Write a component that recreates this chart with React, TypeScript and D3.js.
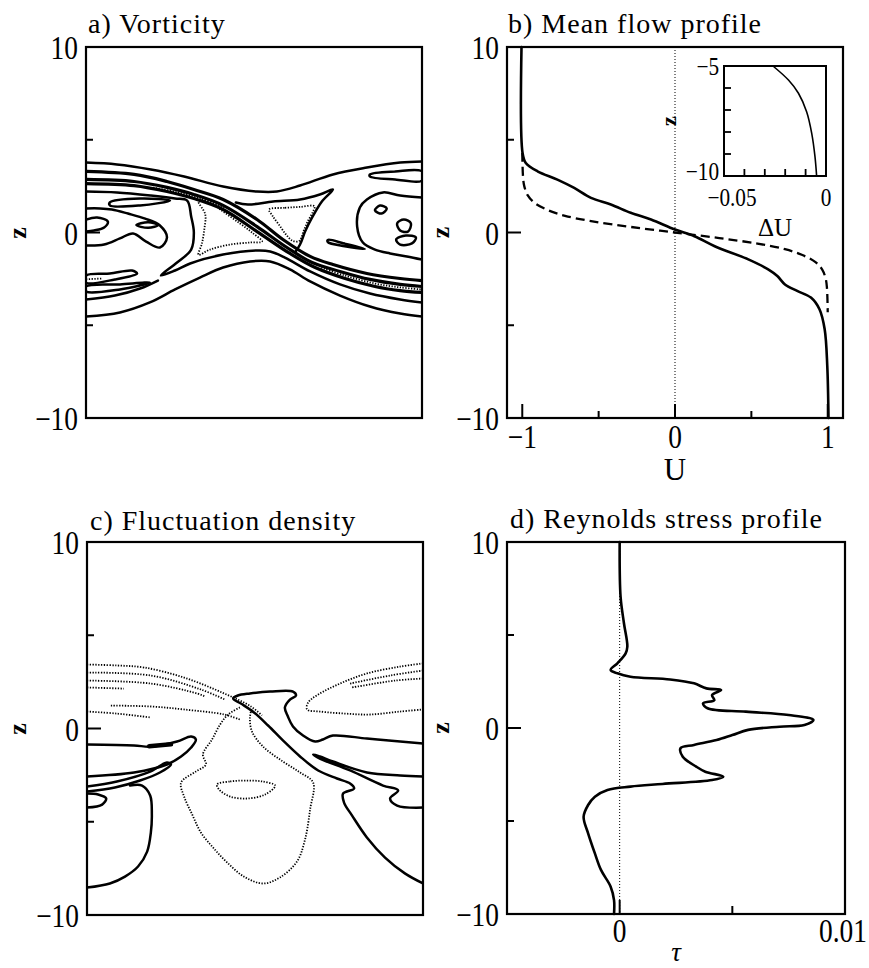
import React from "react";
import * as d3 from "d3";

type Pt = [number, number];

const FONT = "'Liberation Serif','Times New Roman',serif";

// ---------- shared z axis ----------
const zTickValues = [-5, 0, 5];
const zTickLabels = [-10, 0, 10];

// ---------- b) mean flow profile ----------
const meanFlowZ = [10, 4.28, 3.75, 3.3, 2.85, 2.4, 1.87, 1.51, 1.06, 0.7, 0.16, -0.2, -0.74, -1.45, -1.99, -2.35, -2.8, -3.15, -3.51, -4.14, -5.22, -7.19, -10];
const meanFlowU = [-1.005, -0.998, -0.977, -0.9, -0.77, -0.66, -0.55, -0.42, -0.29, -0.157, 0.0, 0.127, 0.26, 0.48, 0.61, 0.67, 0.72, 0.8, 0.89, 0.946, 0.98, 0.997, 1.005];
const initialZ = [4.3, 3.0, 2.5, 2.0, 1.6, 1.2, 0.9, 0.6, 0.3, 0, -0.3, -0.6, -0.9, -1.2, -1.6, -2.0, -2.5, -3.0, -4.3];
const initialU = [-1.0, -0.995, -0.987, -0.964, -0.92, -0.83, -0.72, -0.54, -0.29, 0, 0.29, 0.54, 0.72, 0.83, 0.92, 0.964, 0.987, 0.995, 1.0];
const uMinorTicks = [-0.5, 0.5];
const uMajorTicks = [-1, 0, 1];
const uTickLabels = [-1, 0, 1];

// inset: deviation of the mean flow near the lower boundary
const insetZ = [-5, -5.64, -6.24, -7.08, -8.06, -9.12, -10];
const insetDeltaU = [-0.026, -0.0184, -0.0135, -0.0095, -0.007, -0.0054, -0.0046];
const insetZTicks = [-9, -8, -7, -6];
const insetUTicks = [-0.04, -0.03, -0.02, -0.01];
const insetZLabels = [-10, -5];
const insetULabels = [-0.05, 0];

// ---------- d) Reynolds stress profile ----------
const stressZ = [10, 7.06, 5.63, 4.37, 4.0, 3.48, 3.12, 2.94, 2.76, 2.61, 2.4, 2.13, 2.04, 1.77, 1.5, 1.33, 1.06, 0.88, 0.7, 0.43, 0.16, 0.07, -0.1, -0.38, -0.65, -0.91, -1.09, -1.54, -2.08, -2.35, -2.62, -2.8, -3.01, -3.15, -3.33, -3.69, -4.14, -4.77, -5.66, -6.74, -7.63, -8.53, -9.25, -10];
const stressTau = [0, 0.00004, 0.00019, 0.00034, 0.00026, -0.0001, -0.0004, -0.0001, 0.00048, 0.00224, 0.0033, 0.00385, 0.0045, 0.0041, 0.0042, 0.0037, 0.0039, 0.0056, 0.0075, 0.0086, 0.0082, 0.0071, 0.0057, 0.005, 0.0043, 0.0033, 0.0027, 0.0028, 0.0034, 0.0038, 0.0046, 0.0041, 0.0019, 0.00048, -0.00054, -0.0011, -0.0014, -0.0016, -0.0014, -0.0011, -0.00083, -0.0004, -0.00025, -0.00025];
const tauMinorTicks = [0.005];
const tauMajorTicks = [0];
const tauTickLabels = [0, 0.01];

// ---------- a) vorticity contours, [x / wavelength, z] ----------
const vortOuterTop: Pt[] = [[0, 3.77], [0.092, 3.67], [0.193, 3.4], [0.292, 3.02], [0.408, 2.48], [0.509, 2.21], [0.568, 2.21], [0.637, 2.53], [0.735, 3.13], [0.836, 3.5], [0.935, 3.77], [1, 3.83]];
const vortOuterBottom: Pt[] = [[0, -4.53], [0.101, -4.31], [0.19, -3.77], [0.265, -3.07], [0.339, -2.43], [0.408, -1.89], [0.488, -1.56], [0.548, -1.56], [0.607, -1.99], [0.667, -2.64], [0.756, -3.4], [0.845, -3.99], [0.935, -4.37], [1, -4.53]];
const vortBraid1: Pt[] = [[0, 3.29], [0.143, 3.13], [0.241, 2.75], [0.321, 2.32], [0.408, 1.78], [0.509, 0.7], [0.586, -0.38], [0.667, -1.29], [0.735, -1.73], [0.836, -2.21], [0.935, -2.48], [1, -2.59]];
const vortBraid2: Pt[] = [[0, 2.86], [0.143, 2.75], [0.241, 2.43], [0.321, 2.05], [0.408, 1.46], [0.509, 0.32], [0.598, -0.81], [0.673, -1.62], [0.756, -2.1], [0.845, -2.53], [0.935, -2.8], [1, -2.91]];
const vortBraid3: Pt[] = [[0, 2.64], [0.143, 2.53], [0.241, 2.21], [0.321, 1.83], [0.408, 1.24], [0.509, 0.05], [0.607, -1.13], [0.682, -1.89], [0.771, -2.48], [0.86, -2.91], [0.935, -3.13], [1, -3.23]];
const vortFoldLeft: Pt[] = [[0, 2.21], [0.092, 2.16], [0.193, 1.99], [0.265, 1.83], [0.301, 1.72], [0.313, 0.86], [0.321, 0], [0.313, -0.92], [0.271, -1.62], [0.223, -2.32], [0.265, -2.05], [0.31, -1.67], [0.408, -1.19], [0.509, -0.97], [0.548, -1.02], [0.592, -1.35], [0.667, -2.1], [0.756, -2.8], [0.845, -3.29], [0.935, -3.61], [1, -3.77]];
const vortFoldRight: Pt[] = [[0.446, 1.62], [0.482, 1.51], [0.557, 1.67], [0.637, 1.78], [0.696, 2.05], [0.735, 2.32], [0.702, 1.67], [0.673, 0.81], [0.652, 0.05], [0.637, -0.65], [0.622, -1.08]];
const vortLowerLeft: Pt[] = [[0, -3.61], [0.086, -3.4], [0.161, -3.02], [0.214, -2.59]];
const vortLeftLobe: Pt[] = [[0, 0.7], [0.033, 0.81], [0.065, 0.59], [0.054, 0.27], [0.024, 0.11], [0, 0.05]];
const vortLeftCore: Pt[] = [[0, -0.7], [0.054, -0.65], [0.101, -0.32], [0.14, -0.05], [0.179, -0.49], [0.22, -0.81], [0.241, -0.27], [0.22, 0.38], [0.176, 0.75], [0.125, 1.02], [0.077, 1.24], [0.042, 1.3], [0, 1.3]];
const vortRightCore: Pt[] = [[1, 1.89], [0.935, 1.99], [0.884, 2.16], [0.836, 1.78], [0.815, 1.35], [0.807, 0.32], [0.824, -0.54], [0.86, -0.92], [0.905, -1.13], [0.955, -1.29], [1, -1.46]];
const vortLensA: Pt[] = [[0.071, 1.62], [0.161, 1.83], [0.25, 1.72], [0.161, 1.46], [0.071, 1.46]];
const vortLensB: Pt[] = [[0.15, 0.4], [0.185, 0.55], [0.215, 0.4], [0.185, 0.25]];
const vortLensC: Pt[] = [[0, -2.32], [0.071, -2.21], [0.137, -2.05], [0.152, -2.21], [0.086, -2.53], [0, -2.7]];
const vortLensD: Pt[] = [[0, -2.91], [0.101, -2.8], [0.19, -2.7], [0.101, -3.07], [0, -3.18]];
const vortLensE: Pt[] = [[0.845, 3.13], [0.92, 3.29], [1, 3.29], [1, 2.8], [0.92, 2.86], [0.845, 3.02]];
const vortLensG: Pt[] = [[0.72, -0.4], [0.77, -0.6], [0.83, -0.88], [0.77, -0.74], [0.72, -0.52]];
const vortLoopA: Pt[] = [[0.926, 0.49], [0.946, 0.7], [0.967, 0.49], [0.958, 0.05], [0.935, 0.11]];
const vortLoopB: Pt[] = [[0.923, -0.38], [0.952, -0.16], [0.982, -0.27], [0.97, -0.59], [0.935, -0.65]];
const vortLoopC: Pt[] = [[0.86, 1.2], [0.875, 1.45], [0.895, 1.3], [0.88, 1.02]];
const vortDotLeftTri: Pt[] = [[0.335, 1.7], [0.369, 1.62], [0.408, 1.13], [0.458, 0.49], [0.494, 0], [0.524, -0.49], [0.488, -0.54], [0.429, -0.65], [0.369, -0.92], [0.335, -1.2], [0.345, -0.6], [0.352, 0.16], [0.355, 0.97]];
const vortDotRightTri: Pt[] = [[0.545, 1.24], [0.592, 1.33], [0.637, 1.38], [0.68, 1.42], [0.675, 1.1], [0.66, 0.6], [0.648, 0.1], [0.635, -0.45], [0.615, -0.45], [0.595, -0.1], [0.575, 0.4], [0.555, 0.9]];
const vortDotBraidUpper: Pt[] = [[0.2, 2.42], [0.27, 2.18], [0.34, 1.84], [0.41, 1.35]];
const vortDotBraidLower: Pt[] = [[0.7, -1.9], [0.77, -2.32], [0.86, -2.75], [0.935, -2.96], [1, -3.07]];
const vortDotLeftHatch: Pt[] = [[0, -2.52], [0.05, -2.48]];

// ---------- c) fluctuation density contours ----------
const fluctFunnel: Pt[] = [[1, -0.8], [0.932, -0.7], [0.833, -0.54], [0.732, -0.38], [0.702, -0.59], [0.679, -0.7], [0.643, -0.38], [0.613, 0.11], [0.598, 0.64], [0.589, 1.13], [0.604, 1.55], [0.622, 1.77], [0.613, 1.98], [0.545, 1.98], [0.485, 1.88], [0.449, 1.77], [0.435, 1.61], [0.458, 1.34], [0.497, 0.86], [0.539, 0.16], [0.583, -0.64], [0.634, -1.5], [0.688, -2.25], [0.744, -2.68], [0.783, -2.95], [0.795, -3.22], [0.762, -3.49], [0.765, -3.97], [0.789, -4.67], [0.833, -5.84], [0.887, -6.92], [0.946, -7.77], [1, -8.31]];
const fluctRightTongue: Pt[] = [[1, -2.57], [0.932, -2.52], [0.833, -2.36], [0.732, -1.77], [0.693, -1.5], [0.673, -1.39], [0.693, -1.61], [0.783, -2.25], [0.881, -3.06], [0.926, -3.32], [0.902, -3.75], [0.923, -4.13], [1, -4.24]];
const fluctLeftTongue: Pt[] = [[0, -0.86], [0.14, -0.91], [0.19, -0.97], [0.268, -0.7], [0.31, -0.43], [0.324, -0.59], [0.31, -1.02], [0.28, -1.5], [0.238, -1.93], [0.14, -2.36], [0, -2.57]];
const fluctLeftTongueSpot: Pt[] = [[0.185, -0.95], [0.25, -0.85]];
const fluctLeftInner: Pt[] = [[0, -3.11], [0.089, -2.84], [0.188, -2.31], [0.238, -1.82], [0.25, -1.93], [0.217, -2.36], [0.158, -2.79], [0.083, -3.16], [0, -3.38]];
const fluctLeftBig: Pt[] = [[0.128, -3.06], [0.164, -3.06], [0.188, -3.59], [0.193, -4.61], [0.19, -5.58], [0.179, -6.6], [0.152, -7.4], [0.113, -7.94], [0.068, -8.31], [0, -8.53]];
const fluctLeftLobe: Pt[] = [[0, -3.49], [0.033, -3.54], [0.057, -3.75], [0.045, -4.08], [0, -4.24]];
const fluctDot1: Pt[] = [[0, 3.43], [0.089, 3.38], [0.17, 3.27], [0.289, 2.73], [0.408, 1.88], [0.488, 1.18], [0.521, 0.7]];
const fluctDot2: Pt[] = [[0, 3.0], [0.19, 2.84], [0.339, 2.09], [0.411, 1.55]];
const fluctDot3: Pt[] = [[0, 2.57], [0.19, 2.41], [0.327, 1.88], [0.351, 1.72]];
const fluctDot4: Pt[] = [[0, 2.2], [0.11, 2.14]];
const fluctDot5: Pt[] = [[0, 0.91], [0.089, 0.8], [0.19, 0.59]];
const fluctDot6: Pt[] = [[0.071, 1.23], [0.19, 1.18], [0.289, 1.02], [0.408, 0.75], [0.455, 0.48]];
const fluctBell: Pt[] = [[0.455, 1.13], [0.42, 0.75], [0.396, 0.21], [0.372, -0.59], [0.345, -1.39], [0.354, -1.93], [0.324, -2.31], [0.28, -2.9], [0.289, -3.65], [0.313, -4.61], [0.339, -5.58], [0.375, -6.38], [0.414, -7.13], [0.467, -7.94], [0.524, -8.31], [0.574, -7.99], [0.625, -7.13], [0.649, -5.95], [0.664, -4.34], [0.673, -2.9], [0.634, -2.36], [0.583, -1.77], [0.524, -0.97], [0.491, -0.16], [0.485, 0.59], [0.491, 1.13]];
const fluctEllipse: Pt[] = [[0.387, -3.0], [0.426, -2.84], [0.47, -2.79], [0.521, -2.84], [0.56, -3.06], [0.53, -3.54], [0.479, -3.75], [0.426, -3.65], [0.393, -3.27]];
const fluctDotRightLobe: Pt[] = [[1, 3.49], [0.932, 3.32], [0.833, 2.95], [0.753, 2.41], [0.688, 1.82], [0.658, 1.39], [0.655, 1.02], [0.693, 0.91], [0.768, 0.8], [0.842, 0.75], [0.932, 0.91], [1, 1.02]];
const fluctDotR2: Pt[] = [[1, 3.11], [0.902, 2.84], [0.783, 2.41]];
const fluctDotR3: Pt[] = [[1, 2.68], [0.917, 2.57], [0.789, 2.2]];

// grouped for drawing
const vortHeavy = [vortBraid1, vortBraid2, vortBraid3];
const vortSolidOpen = [vortOuterTop, vortOuterBottom, vortFoldLeft, vortFoldRight, vortLowerLeft, vortLeftLobe, vortLeftCore, vortRightCore];
const vortSolidClosed = [vortLensA, vortLensB, vortLensC, vortLensD, vortLensE, vortLensG, vortLoopA, vortLoopB, vortLoopC];
const vortDottedOpen = [vortDotBraidUpper, vortDotBraidLower, vortDotLeftHatch];
const vortDottedClosed = [vortDotLeftTri, vortDotRightTri];
const fluctSolidOpen = [fluctFunnel, fluctRightTongue, fluctLeftTongue, fluctLeftInner, fluctLeftBig, fluctLeftLobe];
const fluctDottedOpen = [fluctDot1, fluctDot2, fluctDot3, fluctDot4, fluctDot5, fluctDot6, fluctBell, fluctDotRightLobe, fluctDotR2, fluctDotR3];
const fluctDottedClosed = [fluctEllipse];

// ---------- layout ----------
const W = 869;
const H = 968;
const boxA = { x0: 86, x1: 422, y0: 47, y1: 418 };
const boxB = { x0: 507, x1: 843, y0: 47, y1: 418 };
const boxC = { x0: 87, x1: 423, y0: 542, y1: 915 };
const boxD = { x0: 507, x1: 845, y0: 542, y1: 914 };
const boxInset = { x0: 724, x1: 826, y0: 66, y1: 176 };

const fmt = (v: number) => String(v).replace("-", "\u2212");
const pairs = (xs: number[], ys: number[]): Pt[] => xs.map((x, i) => [x, ys[i]]);

function makeLine(xs: d3.ScaleLinear<number, number>, ys: d3.ScaleLinear<number, number>, closed = false) {
  return d3
    .line<Pt>()
    .x((d) => xs(d[0]))
    .y((d) => ys(d[1]))
    .curve(closed ? d3.curveCatmullRomClosed.alpha(0.5) : d3.curveCatmullRom.alpha(0.5));
}

function Label(props: { x: number; y: number; size: number; anchor?: string; sx?: number; children: React.ReactNode; italic?: boolean; bold?: boolean; spacing?: number }) {
  const { x, y, size, anchor = "start", sx = 1, italic, bold, spacing } = props;
  return (
    <text
      transform={`translate(${x},${y}) scale(${sx},1)`}
      fontSize={size}
      textAnchor={anchor}
      fontFamily={FONT}
      fontStyle={italic ? "italic" : "normal"}
      fontWeight={bold ? "bold" : "normal"}
      letterSpacing={spacing}
      fill="#000"
    >
      {props.children}
    </text>
  );
}

function ZLabel({ x, y, size = 26 }: { x: number; y: number; size?: number }) {
  return (
    <text transform={`translate(${x},${y}) rotate(-90)`} fontSize={size} fontWeight="bold" fontFamily={FONT} textAnchor="middle" dominantBaseline="central">
      z
    </text>
  );
}

// left z axis with tick marks inside the frame
function ZAxis({ box, z }: { box: typeof boxA; z: d3.ScaleLinear<number, number> }) {
  return (
    <g>
      {zTickValues.map((v) => (
        <line key={v} x1={box.x0} x2={box.x0 + (v === 0 ? 14 : 7)} y1={z(v)} y2={z(v)} stroke="#000" strokeWidth={2} />
      ))}
      {zTickLabels.map((v) => (
        <Label key={v} x={box.x0 - 8} y={z(v) + 12} size={33} sx={0.83} anchor="end">
          {fmt(v)}
        </Label>
      ))}
    </g>
  );
}

function Frame({ box }: { box: typeof boxA }) {
  return <rect x={box.x0} y={box.y0} width={box.x1 - box.x0} height={box.y1 - box.y0} fill="none" stroke="#000" strokeWidth={2.2} />;
}

const SOLID = { fill: "none", stroke: "#000", strokeWidth: 2.5, strokeLinejoin: "round" as const, strokeLinecap: "round" as const };
const DOTTED = { fill: "none", stroke: "#000", strokeWidth: 1.8, strokeDasharray: "1.3 1.5" };

function ContourPanel(props: {
  box: typeof boxA;
  id: string;
  title: string;
  titleX: number;
  titleY: number;
  zLabelY: number;
  heavy?: Pt[][];
  solidOpen: Pt[][];
  solidClosed: Pt[][];
  dottedOpen: Pt[][];
  dottedClosed: Pt[][];
  spots?: Pt[][];
}) {
  const { box, id } = props;
  const x = d3.scaleLinear().domain([0, 1]).range([box.x0, box.x1]);
  const z = d3.scaleLinear().domain([-10, 10]).range([box.y1, box.y0]);
  const open = makeLine(x, z);
  const closed = makeLine(x, z, true);
  return (
    <g>
      <defs>
        <clipPath id={id}>
          <rect x={box.x0} y={box.y0} width={box.x1 - box.x0} height={box.y1 - box.y0} />
        </clipPath>
      </defs>
      <g clipPath={`url(#${id})`}>
        {(props.heavy || []).map((c, i) => (
          <path key={`hv${i}`} d={open(c) || ""} {...SOLID} strokeWidth={3.2} />
        ))}
        {props.solidOpen.map((c, i) => (
          <path key={`so${i}`} d={open(c) || ""} {...SOLID} />
        ))}
        {props.solidClosed.map((c, i) => (
          <path key={`sc${i}`} d={closed(c) || ""} {...SOLID} />
        ))}
        {props.dottedOpen.map((c, i) => (
          <path key={`do${i}`} d={open(c) || ""} {...DOTTED} />
        ))}
        {props.dottedClosed.map((c, i) => (
          <path key={`dc${i}`} d={closed(c) || ""} {...DOTTED} />
        ))}
        {(props.spots || []).map((c, i) => (
          <path key={`sp${i}`} d={open(c) || ""} fill="none" stroke="#000" strokeWidth={4.5} strokeLinecap="round" />
        ))}
      </g>
      <Frame box={box} />
      <ZAxis box={box} z={z} />
      <ZLabel x={17} y={props.zLabelY} />
      <Label x={props.titleX} y={props.titleY} size={28} spacing={1}>
        {props.title}
      </Label>
    </g>
  );
}

function MeanFlowPanel() {
  const box = boxB;
  const u = d3.scaleLinear().domain([-1.1, 1.1]).range([box.x0, box.x1]);
  const z = d3.scaleLinear().domain([-10, 10]).range([box.y1, box.y0]);
  const line = makeLine(u, z);
  const iu = d3.scaleLinear().domain([-0.05, 0]).range([boxInset.x0, boxInset.x1]);
  const iz = d3.scaleLinear().domain([-10, -5]).range([boxInset.y1, boxInset.y0]);
  const insetLine = makeLine(iu, iz);
  return (
    <g>
      <line x1={u(0)} x2={u(0)} y1={box.y0} y2={box.y1} stroke="#000" strokeWidth={1} strokeDasharray="1 2" />
      <path d={line(pairs(initialU, initialZ)) || ""} fill="none" stroke="#000" strokeWidth={2.3} strokeDasharray="9 5" />
      <path d={line(pairs(meanFlowU, meanFlowZ)) || ""} {...SOLID} strokeWidth={2.6} />
      <Frame box={box} />
      <ZAxis box={box} z={z} />
      {uMinorTicks.map((v) => (
        <line key={v} x1={u(v)} x2={u(v)} y1={box.y1} y2={box.y1 - 7} stroke="#000" strokeWidth={2} />
      ))}
      {uMajorTicks.map((v) => (
        <line key={`M${v}`} x1={u(v)} x2={u(v)} y1={box.y1} y2={box.y1 - 14} stroke="#000" strokeWidth={2} />
      ))}
      {uTickLabels.map((v) => (
        <Label key={v} x={u(v)} y={box.y1 + 30} size={33} sx={0.83} anchor="middle">
          {fmt(v)}
        </Label>
      ))}
      <Label x={u(0)} y={box.y1 + 62} size={31} anchor="middle">
        U
      </Label>
      <ZLabel x={440} y={z(0)} />
      <Label x={boxB.x0 + 1} y={33} size={28} spacing={1}>
        b) Mean flow profile
      </Label>

      {/* inset */}
      <rect x={boxInset.x0} y={boxInset.y0} width={boxInset.x1 - boxInset.x0} height={boxInset.y1 - boxInset.y0} fill="none" stroke="#000" strokeWidth={2} />
      <path d={insetLine(pairs(insetDeltaU, insetZ)) || ""} fill="none" stroke="#000" strokeWidth={1.6} />
      {insetZTicks.map((v) => (
        <line key={v} x1={boxInset.x0} x2={boxInset.x0 + 7} y1={iz(v)} y2={iz(v)} stroke="#000" strokeWidth={1.8} />
      ))}
      {insetUTicks.map((v) => (
        <line key={v} x1={iu(v)} x2={iu(v)} y1={boxInset.y1} y2={boxInset.y1 - 7} stroke="#000" strokeWidth={1.8} />
      ))}
      {insetZLabels.map((v) => (
        <Label key={v} x={boxInset.x0 - 5} y={iz(v) + (v === -10 ? 4 : 9)} size={25} sx={0.85} anchor="end">
          {fmt(v)}
        </Label>
      ))}
      {insetULabels.map((v) => (
        <Label key={v} x={iu(v) + (v === 0 ? 0 : 8)} y={boxInset.y1 + 30} size={25} sx={0.85} anchor="middle">
          {fmt(v)}
        </Label>
      ))}
      <ZLabel x={668} y={(boxInset.y0 + boxInset.y1) / 2} size={22} />
      <Label x={775} y={236} size={25} anchor="middle">
        {"\u0394U"}
      </Label>
    </g>
  );
}

function StressPanel() {
  const box = boxD;
  const t = d3.scaleLinear().domain([-0.005, 0.01]).range([box.x0, box.x1]);
  const z = d3.scaleLinear().domain([-10, 10]).range([box.y1, box.y0]);
  const line = makeLine(t, z);
  return (
    <g>
      <line x1={t(0)} x2={t(0)} y1={box.y0} y2={box.y1} stroke="#000" strokeWidth={1} strokeDasharray="1 2" />
      <path d={line(pairs(stressTau, stressZ)) || ""} {...SOLID} strokeWidth={2.6} />
      <Frame box={box} />
      <ZAxis box={box} z={z} />
      {tauMinorTicks.map((v) => (
        <line key={v} x1={t(v)} x2={t(v)} y1={box.y1} y2={box.y1 - 8} stroke="#000" strokeWidth={2} />
      ))}
      {tauMajorTicks.map((v) => (
        <line key={`M${v}`} x1={t(v)} x2={t(v)} y1={box.y1} y2={box.y1 - 14} stroke="#000" strokeWidth={2} />
      ))}
      {tauTickLabels.map((v) => (
        <Label key={v} x={v === 0 ? t(v) : t(v) - 2} y={box.y1 + 28} size={33} sx={0.83} anchor="middle">
          {fmt(v)}
        </Label>
      ))}
      <Label x={676} y={961} size={27} italic anchor="middle">
        {"\u03C4"}
      </Label>
      <ZLabel x={440} y={z(0)} />
      <Label x={510} y={528} size={28} spacing={1}>
        d) Reynolds stress profile
      </Label>
    </g>
  );
}

export default function App() {
  return (
    <svg width={W} height={H} viewBox={`0 0 ${W} ${H}`} style={{ position: "absolute", left: 0, top: 0, background: "#fff" }}>
      <rect x={0} y={0} width={W} height={H} fill="#fff" />
      <ContourPanel
        box={boxA}
        id="clipVort"
        title="a) Vorticity"
        titleX={88}
        titleY={33}
        zLabelY={233}
        heavy={vortHeavy}
        solidOpen={vortSolidOpen}
        solidClosed={vortSolidClosed}
        dottedOpen={vortDottedOpen}
        dottedClosed={vortDottedClosed}
      />
      <MeanFlowPanel />
      <ContourPanel
        box={boxC}
        id="clipFluct"
        title="c) Fluctuation density"
        titleX={90}
        titleY={530}
        zLabelY={729}
        solidOpen={fluctSolidOpen}
        solidClosed={[]}
        dottedOpen={fluctDottedOpen}
        dottedClosed={fluctDottedClosed}
        spots={[fluctLeftTongueSpot]}
      />
      <StressPanel />
    </svg>
  );
}
